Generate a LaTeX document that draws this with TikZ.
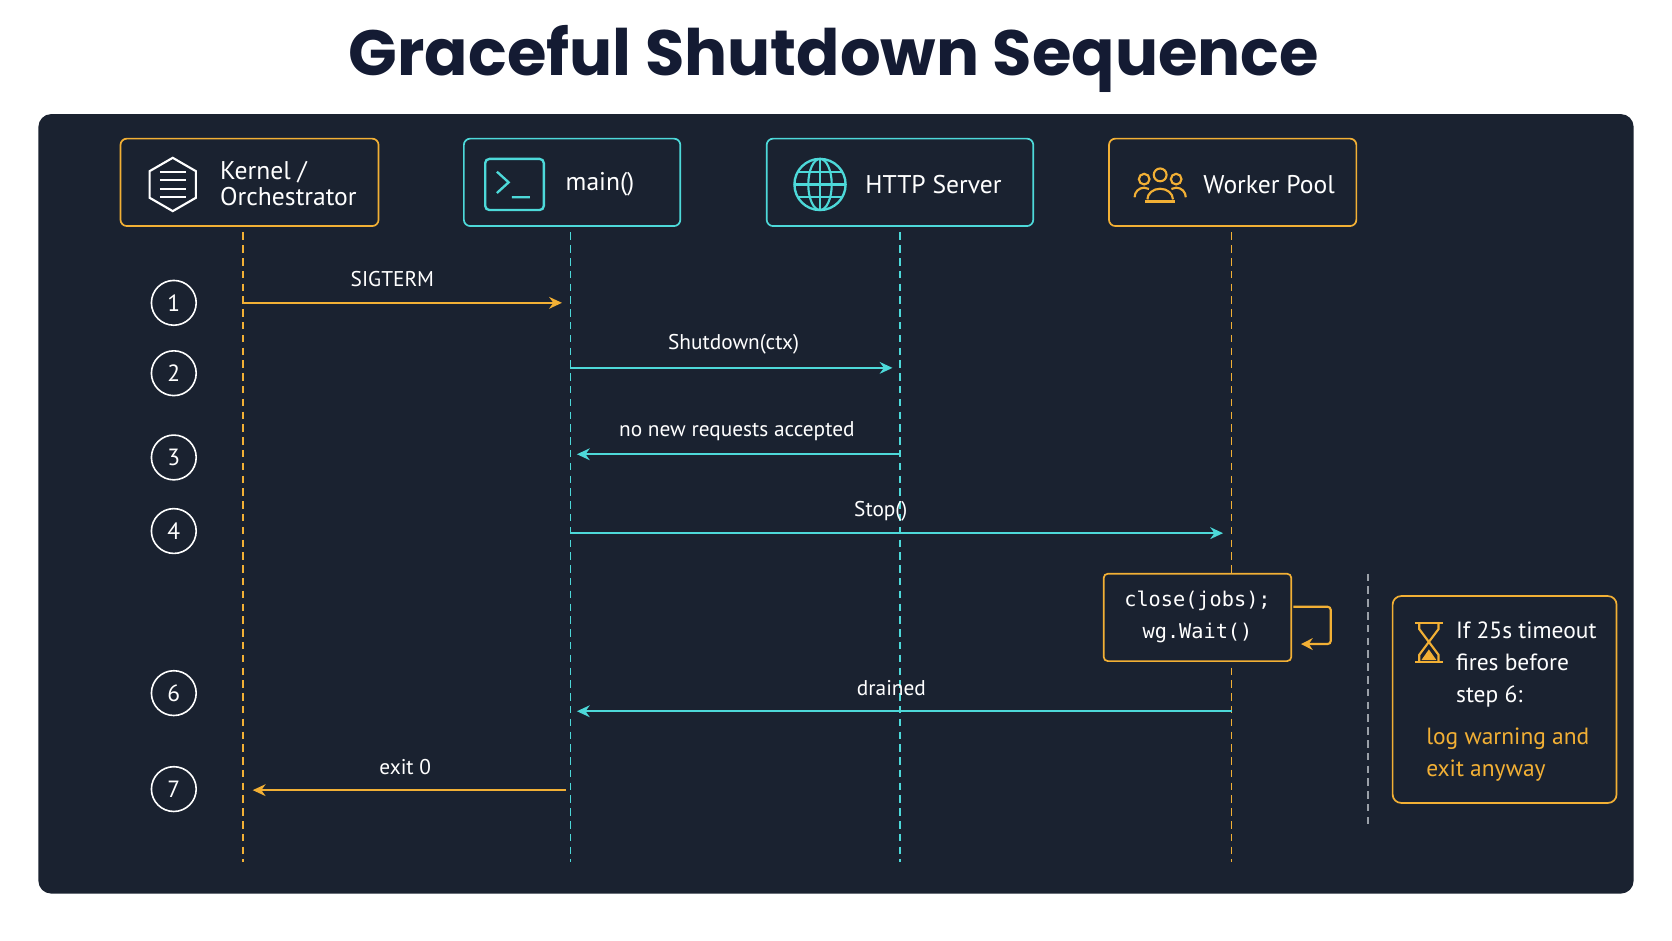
\documentclass[tikz,border=0pt]{standalone}
\usepackage{fontspec}
\setmainfont{PT Sans}
\setsansfont{Poppins}
\setmonofont{DejaVu Sans Mono}
\usetikzlibrary{arrows.meta,shapes.geometric}
\definecolor{bg}{HTML}{1A2230}
\definecolor{org}{HTML}{F2B035}
\definecolor{cyn}{HTML}{4DD9D9}
\definecolor{ttl}{HTML}{141B33}
\definecolor{gry}{HTML}{9AA0A8}
\begin{document}
\begin{tikzpicture}[x=1pt,y=-1pt,
 hdr/.style={draw=#1,line width=1.6pt,rounded corners=6pt,fill=bg},
 life/.style={draw=#1,line width=1.2pt,dash pattern=on 7pt off 5pt},
 msg/.style={draw=#1,line width=2pt,-{Stealth[length=12pt,width=11pt]}},
 stp/.style={circle,draw=white,line width=1.5pt,minimum size=42pt,inner sep=0pt,text=white,font=\fontsize{22}{24}\selectfont},
 lbl/.style={text=white,font=\fontsize{20}{22}\selectfont},
 htxt/.style={text=white,font=\fontsize{24}{26}\selectfont,align=left,anchor=west}]
\useasboundingbox (0,0) rectangle (1568,882);
\fill[white] (0,0) rectangle (1568,882);
\node[text=ttl,font=\sffamily\bfseries\fontsize{60}{64}\selectfont] (title) at (782,55) {Graceful Shutdown Sequence};
\fill[bg,rounded corners=12pt] (36,107) rectangle (1532,838);
% headers
\draw[hdr=org] (113,130) rectangle (355,212);
\draw[hdr=cyn] (435,130) rectangle (638,212);
\draw[hdr=cyn] (719,130) rectangle (969,212);
\draw[hdr=org] (1040,130) rectangle (1272,212);
\node[htxt,align=left] (kt) at (203,172) {Kernel /\\[-2pt]Orchestrator};
\node[htxt] (mt) at (527,173) {main()};
\node[htxt] (ht) at (808,173) {HTTP Server};
\node[htxt] (wt) at (1125,173) {Worker Pool};
% icons
\node[regular polygon,regular polygon sides=6,draw=white,line width=2pt,minimum size=50pt,rotate=30] (kicon) at (162,173) {};
\draw[white,line width=2pt] (150,161)--(174,161) (150,169)--(174,169) (150,177)--(174,177) (150,185)--(174,185);
\draw[cyn,line width=2.2pt,rounded corners=4pt] (455,149) rectangle (510,197);
\draw[cyn,line width=2.2pt] (466,161)--(477,171)--(466,181) (480,185)--(497,185);
\node[circle,draw=cyn,line width=2.2pt,minimum size=48pt,inner sep=0pt] (gicon) at (769,173) {};
\draw[cyn,line width=2pt] (769,149)--(769,197) (745,173)--(793,173) (748,161)--(790,161) (748,185)--(790,185);
\draw[cyn,line width=2pt] (769,173) ellipse (11pt and 24pt);
\draw[org,line width=2pt] (1088,164) circle (6pt) (1073,168) circle (5pt) (1103,168) circle (5pt);
\draw[org,line width=2pt] (1076,187) arc (180:0:12pt and 10pt) (1064,185) arc (180:60:9pt) (1112,185) arc (0:120:9pt);
\draw[org,line width=2pt] (1074,189)--(1102,189);
% lifelines
\coordinate (k0) at (228,218); \coordinate (k1) at (228,808);
\coordinate (m0) at (535,218); \coordinate (m1) at (535,808);
\coordinate (h0) at (844,218); \coordinate (h1) at (844,808);
\coordinate (w0) at (1155,218); \coordinate (w1) at (1155,808);
\draw[life=org] (k0)--(k1);
\draw[life=cyn] (m0)--(m1);
\draw[life=cyn] (h0)--(h1);
\draw[life=org] (w0)--(w1);
% steps
\node[stp] (s1) at (163,284) {1};
\node[stp] (s2) at (163,350) {2};
\node[stp] (s3) at (163,429) {3};
\node[stp] (s4) at (163,498) {4};
\node[stp] (s6) at (163,650) {6};
\node[stp] (s7) at (163,740) {7};
% messages
\coordinate (a1) at (228,284); \coordinate (b1) at (527,284);
\draw[msg=org] (a1)--(b1); \node[lbl] (l1) at (368,262) {SIGTERM};
\coordinate (a2) at (535,345); \coordinate (b2) at (837,345);
\draw[msg=cyn] (a2)--(b2); \node[lbl] (l2) at (688,323) {Shutdown(ctx)};
\coordinate (a3) at (843,426); \coordinate (b3) at (541,426);
\draw[msg=cyn] (a3)--(b3); \node[lbl] (l3) at (691,404) {no new requests accepted};
\coordinate (a4) at (535,500); \coordinate (b4) at (1147,500);
\draw[msg=cyn] (a4)--(b4); \node[lbl] (l4) at (826,479) {Stop()};
\coordinate (a6) at (1155,667); \coordinate (b6) at (541,667);
\draw[msg=cyn] (a6)--(b6); \node[lbl] (l6) at (836,645) {drained};
\coordinate (a7) at (531,741); \coordinate (b7) at (237,741);
\draw[msg=org] (a7)--(b7); \node[lbl] (l7) at (380,719) {exit 0};
% close box
\node[draw=org,line width=1.6pt,rounded corners=4pt,fill=bg,minimum width=176pt,minimum height=82pt,align=center,text=white,font=\ttfamily\fontsize{19}{30}\selectfont] (cb) at (1123,579) {close(jobs);\\wg.Wait()};
\coordinate (c0) at (1213,569); \coordinate (c1) at (1220,604);
\draw[org,line width=2pt,-{Stealth[length=11pt,width=11pt]},rounded corners=3pt] (c0)--(1248,569)--(1248,604)--(c1);
% separator
\coordinate (g0) at (1283,538); \coordinate (g1) at (1283,775);
\draw[gry,line width=1.2pt,dash pattern=on 7pt off 5pt] (g0)--(g1);
% note
\draw[org,line width=1.6pt,rounded corners=8pt] (1306,559) rectangle (1516,753);
\draw[org,line width=2.2pt] (1327,584)--(1353,584) (1327,621)--(1353,621);
\draw[org,line width=2pt] (1331,584)--(1331,590)--(1340,602)--(1331,614)--(1331,621) (1349,584)--(1349,590)--(1340,602)--(1349,614)--(1349,621);
\fill[org] (1333,619)--(1340,609)--(1347,619)--cycle;
\node[text=white,anchor=west,align=left,font=\fontsize{22}{30}\selectfont] (nt) at (1362,623) {If 25s timeout\\fires before\\step 6:};
\node[text=org,anchor=west,align=left,font=\fontsize{22}{30}\selectfont] (nt2) at (1334,708) {log warning and\\exit anyway};
\end{tikzpicture}
\end{document}
